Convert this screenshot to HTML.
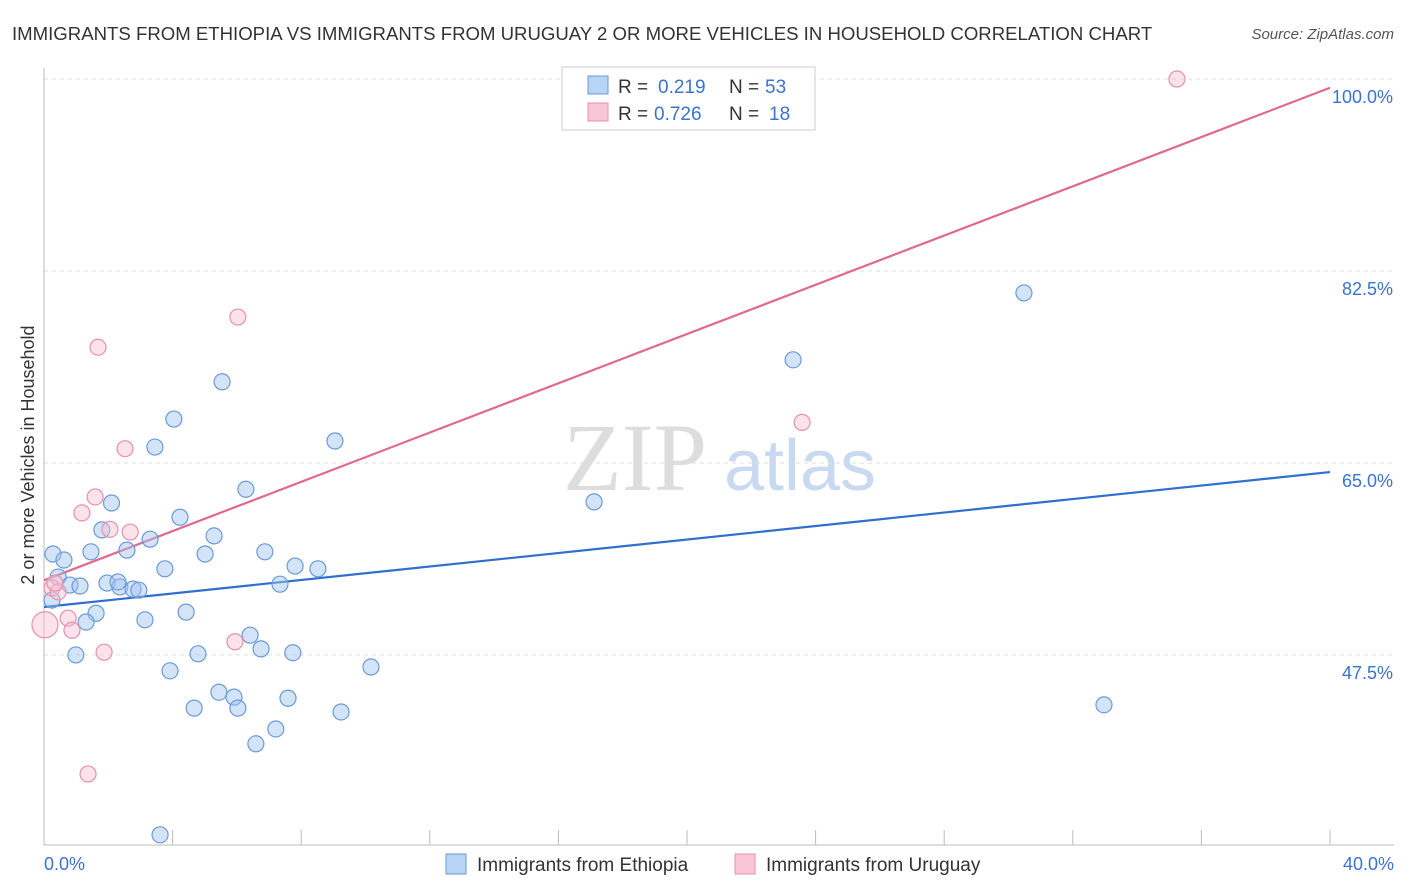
<!DOCTYPE html>
<html><head><meta charset="utf-8"><style>
body{margin:0;background:#fff;font-family:"Liberation Sans",sans-serif;}
svg{display:block}
</style></head><body>
<svg id="c" width="1406" height="892">
<text x="12" y="40" font-size="18.6" fill="#333">IMMIGRANTS FROM ETHIOPIA VS IMMIGRANTS FROM URUGUAY 2 OR MORE VEHICLES IN HOUSEHOLD CORRELATION CHART</text>
<text x="1394" y="39" font-size="15" fill="#555" font-style="italic" text-anchor="end">Source: ZipAtlas.com</text>
<text x="34" y="455" font-size="18" fill="#333" text-anchor="middle" transform="rotate(-90 34 455)">2 or more Vehicles in Household</text>
<g><text x="635" y="490" font-size="96" fill="#ddd" font-family="Liberation Serif" text-anchor="middle">ZIP</text><text x="800" y="490" font-size="72" fill="#c9d9f0" text-anchor="middle">atlas</text></g>
<g id="grid"></g><g id="axes"></g><g id="lines"></g><g id="pts"></g>
<g>
<rect x="562" y="67" width="253" height="63" fill="#fff" stroke="#ccc"/>
<rect x="588" y="76" width="20" height="18" fill="#b8d4f5" stroke="#6a9ad8"/>
<rect x="588" y="103" width="20" height="18" fill="#f9c6d6" stroke="#e890ad"/>
<text y="93" font-size="19" fill="#333"><tspan x="618">R =</tspan><tspan x="658" fill="#3a73d0">0.219</tspan><tspan x="729">N =</tspan><tspan x="765" fill="#3a73d0">53</tspan></text>
<text y="120" font-size="19" fill="#333"><tspan x="618">R =</tspan><tspan x="654" fill="#3a73d0">0.726</tspan><tspan x="729">N =</tspan><tspan x="769" fill="#3a73d0">18</tspan></text>
</g>
<g>
<rect x="446" y="854" width="20" height="20" fill="#b8d4f5" stroke="#6a9ad8"/>
<text x="477" y="871" font-size="19" fill="#333">Immigrants from Ethiopia</text>
<rect x="735" y="854" width="20" height="20" fill="#f9c6d6" stroke="#e890ad"/>
<text x="766" y="871" font-size="19" fill="#333">Immigrants from Uruguay</text>
</g>
</svg>
<script>
const yTicks=[100,82.5,65,47.5];
const yTickLabels=["100.0%","82.5%","65.0%","47.5%"];
const xTicks=[0,4,8,12,16,20,24,28,32,36,40];
const blueX=[0.28,0.62,0.44,0.81,1.12,0.25,1.62,1.31,1.46,0.99,1.8,2.1,1.96,2.36,2.3,2.58,2.77,2.95,3.14,3.3,3.45,3.76,4.04,4.23,4.42,3.92,4.67,4.79,5.01,5.29,5.44,5.54,5.91,6.03,6.28,6.41,6.59,6.75,6.87,7.21,7.34,7.59,7.74,7.81,8.52,9.05,9.24,10.17,3.61,17.11,23.3,30.48,32.97];
const blueY=[56.7,56.15,54.6,53.87,53.78,52.5,51.3,50.5,56.9,47.5,58.9,61.35,54.05,53.7,54.15,57.05,53.5,53.4,50.7,58.05,66.45,55.35,69.0,60.05,51.4,46.05,42.65,47.6,56.7,58.35,44.1,72.4,43.65,42.65,62.6,49.3,39.4,48.05,56.9,40.75,53.95,43.55,47.7,55.6,55.35,67.0,42.3,46.4,31.1,61.45,74.4,80.5,42.95];
const pinkX=[0.25,0.44,0.75,0.87,1.18,1.37,1.59,1.68,1.87,2.05,2.52,2.68,5.94,6.03,23.58,35.24,0.03,0.34];
const pinkY=[53.6,53.25,50.85,49.75,60.45,36.65,61.9,75.55,47.75,58.95,66.3,58.7,48.7,78.3,68.7,100,50.25,54.05];
const blueLine=[[0,51.87],[40,64.17]];
const pinkLine=[[0,54.3],[40,99.2]];
const sx=v=>44+v*32.15, sy=v=>79+(100-v)*10.97;
const NS="http://www.w3.org/2000/svg";
function mk(p,t,a){const e=document.createElementNS(NS,t);for(const k in a)e.setAttribute(k,a[k]);document.getElementById(p).appendChild(e);return e;}
yTicks.forEach((v,i)=>{
 const g=mk('grid','line',{x1:44,x2:1394,y1:sy(v),y2:sy(v),stroke:'#ddd','stroke-dasharray':'4,4'});
 
 
 const t=mk('axes','text',{x:1393,y:sy(v)+24,'font-size':18,fill:'#3a73d0','text-anchor':'end'});t.textContent=yTickLabels[i];
 
 
});
const ax=mk('axes','line',{x1:44,x2:1394,y1:845,y2:845,stroke:'#bbb'});


const ay=mk('axes','line',{x1:44,x2:44,y1:68,y2:845,stroke:'#bbb'});


xTicks.forEach(v=>{const t=mk('axes','line',{x1:sx(v),x2:sx(v),y1:830,y2:845,stroke:'#bbb'});
 
 });
[["0.0%",44,"start"],["40.0%",1394,"end"]].forEach(d=>{const t=mk('axes','text',{x:d[1],y:870,'font-size':18,fill:'#3a73d0','text-anchor':d[2]});t.textContent=d[0];
 
 });
blueX.forEach((x,i)=>{const c=mk('pts','circle',{cx:sx(x),cy:sy(blueY[i]),r:8,fill:'rgba(160,196,240,0.45)',stroke:'#6a9ad8','stroke-width':1.2});
 
 });
pinkX.forEach((x,i)=>{const c=mk('pts','circle',{cx:sx(x),cy:sy(pinkY[i]),r:i==16?13:8,fill:'rgba(248,190,210,0.45)',stroke:'#e890ad','stroke-width':1.2});
 
 });
const bl=mk('lines','line',{x1:sx(blueLine[0][0]),y1:sy(blueLine[0][1]),x2:sx(blueLine[1][0]),y2:sy(blueLine[1][1]),stroke:'#2f6fd0','stroke-width':2.2});


const pl=mk('lines','line',{x1:sx(pinkLine[0][0]),y1:sy(pinkLine[0][1]),x2:sx(pinkLine[1][0]),y2:sy(pinkLine[1][1]),stroke:'#e06892','stroke-width':2.2});


</script>
</body></html>
